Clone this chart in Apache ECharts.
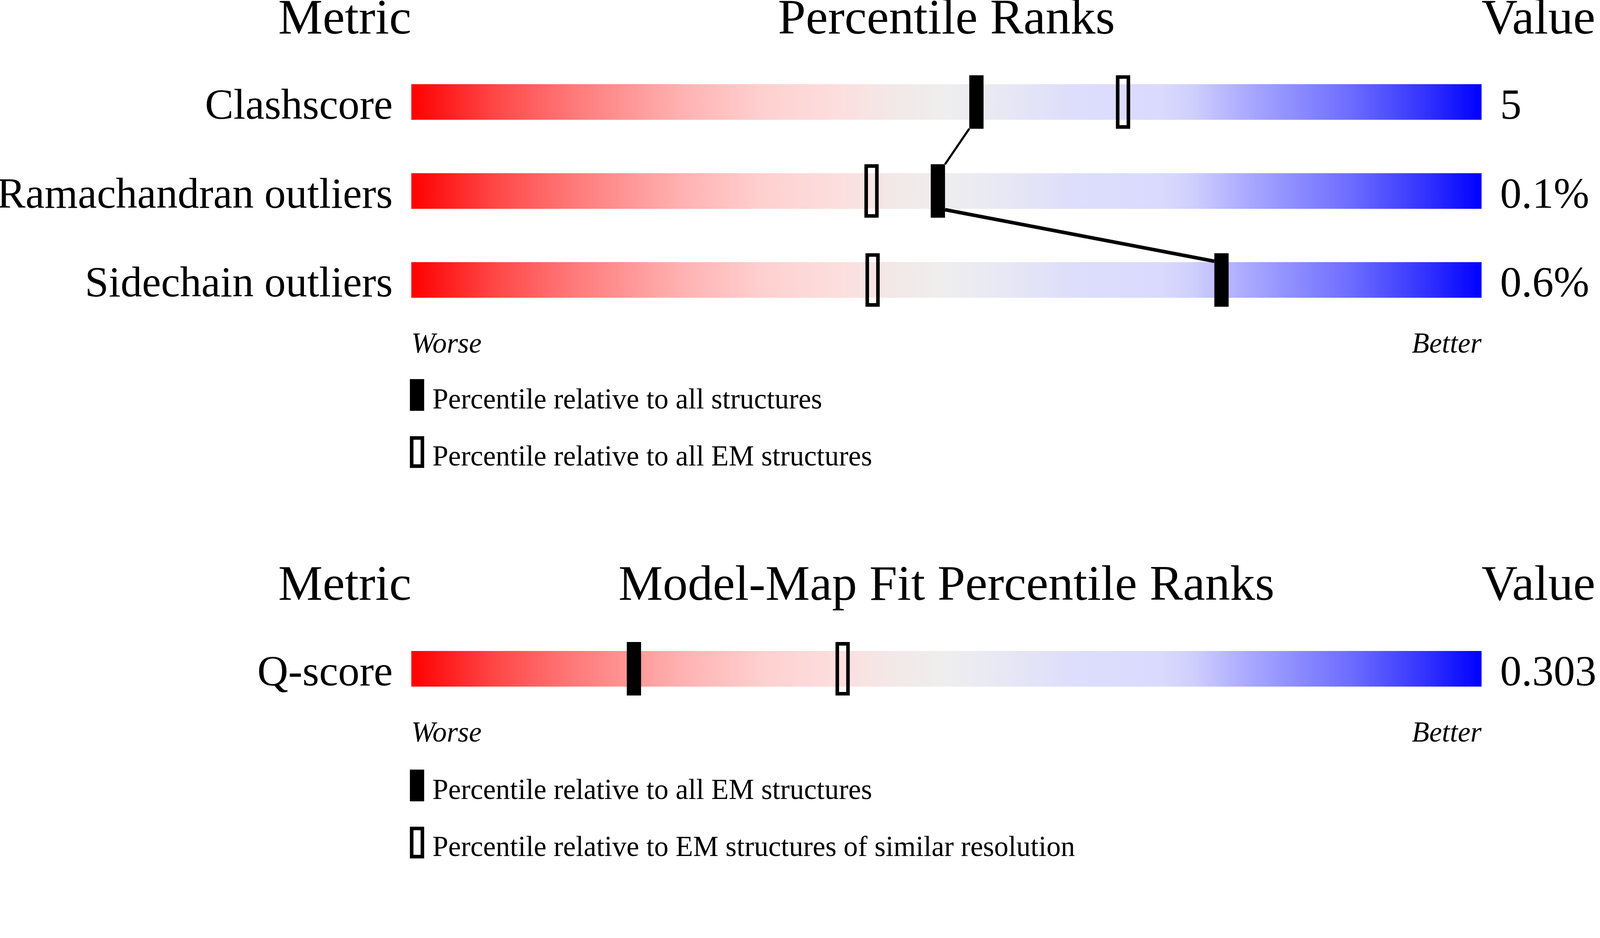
<!DOCTYPE html>
<html>
<head>
<meta charset="utf-8">
<title>Percentile Ranks</title>
<script src="https://cdn.jsdelivr.net/npm/echarts@6/dist/echarts.min.js"></script>
<style>
  html, body { margin: 0; padding: 0; background: #fff; overflow: hidden; }
  #chart { width: 100vw; height: 100vh; }
</style>
</head>
<body>
<div id="chart"></div>
<script>
// Geometry quality metrics
const metrics = ['Clashscore', 'Ramachandran outliers', 'Sidechain outliers'];
const metricValues = ['5', '0.1%', '0.6%'];
const pctAll = [52.8, 49.2, 75.7];   // relative to all structures
const pctAllEM = [66.5, 43.0, 43.1]; // relative to all EM structures

// Model-map fit metrics
const fitMetrics = ['Q-score'];
const fitValues = ['0.303'];
const fitPctAllEM = [20.8];  // relative to all EM structures
const fitPctSimRes = [40.3]; // relative to EM structures of similar resolution

const legendTop = ['Percentile relative to all structures', 'Percentile relative to all EM structures'];
const legendBottom = ['Percentile relative to all EM structures', 'Percentile relative to EM structures of similar resolution'];

const FONT = '"Liberation Serif", "Times New Roman", serif';

const chartDom = document.getElementById('chart');
const chart = echarts.init(chartDom);

// layout was measured on a 4485px wide canvas, scale to whatever we get
const S = chartDom.clientWidth / 4485;
const px = v => v * S;

// red -> grey -> blue slider
const sliderColor = new echarts.graphic.LinearGradient(0, 0, 1, 0, [
    { offset: 0, color: '#ff0000' },
    { offset: 0.08, color: '#ff4848' },
    { offset: 0.15, color: '#ff7878' },
    { offset: 0.25, color: '#ffb0b0' },
    { offset: 0.33, color: '#ffd0d0' },
    { offset: 0.40, color: '#fddede' },
    { offset: 0.45, color: '#f3e8e8' },
    { offset: 0.50, color: '#eeeeee' },
    { offset: 0.55, color: '#e8e8f4' },
    { offset: 0.62, color: '#ddddfc' },
    { offset: 0.70, color: '#dadafe' },
    { offset: 0.73, color: '#cfcffd' },
    { offset: 0.78, color: '#aaaaff' },
    { offset: 0.88, color: '#6b6bff' },
    { offset: 0.95, color: '#3030ff' },
    { offset: 1, color: '#0000ff' }
]);

// marker half width in percentile units (20px of a 3000px slider)
const HALF = 20 / 3000 * 100;
// vertical offsets (in rows) where each connector meets the markers
const linkOffsets = [0.3, 0.21];
const linkWidths = [6, 10];

const links = [];
for (let i = 0; i < pctAll.length - 1; i++) {
    const a = pctAll[i], b = pctAll[i + 1];
    const dir = b > a ? 1 : -1;
    links.push({
        coords: [[a + dir * HALF, i + linkOffsets[i]], [b - dir * HALF, i + 1 - linkOffsets[i]]],
        lineStyle: { width: px(linkWidths[i]) }
    });
}

const xAxisBase = (gridIndex) => ({
    gridIndex: gridIndex,
    type: 'value',
    min: 0,
    max: 100,
    interval: 100,
    axisLine: { show: false },
    axisTick: { show: false },
    splitLine: { show: false },
    axisLabel: {
        showMinLabel: true,
        showMaxLabel: true,
        alignMinLabel: 'left',
        alignMaxLabel: 'right',
        margin: px(18),
        fontFamily: FONT,
        fontStyle: 'italic',
        fontSize: px(80),
        color: '#000',
        formatter: v => (v === 0 ? 'Worse' : v === 100 ? 'Better' : '')
    }
});

const catAxis = (gridIndex, data, position) => ({
    gridIndex: gridIndex,
    type: 'category',
    data: data,
    inverse: true,
    position: position,
    axisLine: { show: false },
    axisTick: { show: false },
    splitLine: { show: false },
    axisLabel: {
        margin: px(52),
        align: position === 'left' ? 'right' : 'left',
        verticalAlign: 'top',
        lineHeight: px(30),
        fontFamily: FONT,
        fontSize: px(120),
        color: '#000'
    }
});

// percentile marker: filled or outlined rectangle, sized in real pixels
const markerSeries = (name, xAxisIndex, yAxisIndex, values, hollow) => ({
    name: name,
    type: 'custom',
    xAxisIndex: xAxisIndex,
    yAxisIndex: yAxisIndex,
    silent: true,
    z: 3,
    data: values.map((p, i) => [p, i]),
    encode: { x: 0, y: 1 },
    renderItem: (params, api) => {
        const c = api.coord([api.value(0), api.value(1)]);
        const w = hollow ? px(30) : px(40);
        const h = hollow ? px(140) : px(150);
        return {
            type: 'rect',
            shape: { x: c[0] - w / 2, y: c[1] - h / 2, width: w, height: h },
            style: hollow
                ? { fill: 'none', stroke: '#000', lineWidth: px(10) }
                : { fill: '#000', stroke: 'none' }
        };
    }
});

const headerText = (x, y, text, align) => ({
    type: 'text',
    x: px(x),
    y: px(y),
    style: { text: text, font: px(140) + 'px ' + FONT, fill: '#000', align: align, verticalAlign: 'middle' }
});

// legend: key rectangle + caption, one row per marker kind
const legendRow = (top, name, hollow) => ({
    type: 'group',
    x: px(1149),
    y: px(top),
    children: [
        {
            type: 'rect',
            shape: hollow ? { x: px(5), y: px(5), width: px(30), height: px(79) } : { x: 0, y: 0, width: px(40), height: px(89) },
            style: hollow ? { fill: '#fff', stroke: '#000', lineWidth: px(10) } : { fill: '#000' }
        },
        {
            type: 'text',
            x: px(63),
            y: px(61),
            style: { text: name, font: px(80) + 'px ' + FONT, fill: '#000', align: 'left', verticalAlign: 'middle' }
        }
    ]
});

const option = {
    backgroundColor: '#fff',
    animation: false,
    grid: [
        { left: px(1153), width: px(3000), top: px(161.25), height: px(748.5), outerBoundsMode: 'none' },
        { left: px(1153), width: px(3000), top: px(1750.5), height: px(249.5), outerBoundsMode: 'none' }
    ],
    xAxis: [xAxisBase(0), xAxisBase(1)],
    yAxis: [
        catAxis(0, metrics, 'left'),
        catAxis(0, metricValues, 'right'),
        { gridIndex: 0, type: 'value', min: -0.5, max: 2.5, inverse: true, show: false },
        catAxis(1, fitMetrics, 'left'),
        catAxis(1, fitValues, 'right')
    ],
    graphic: [
        headerText(1153, 57, 'Metric', 'right'),
        headerText(2653, 57, 'Percentile Ranks', 'center'),
        headerText(4153, 57, 'Value', 'left'),
        headerText(1153, 1645, 'Metric', 'right'),
        headerText(2653, 1645, 'Model-Map Fit Percentile Ranks', 'center'),
        headerText(4153, 1645, 'Value', 'left'),
        legendRow(1063, legendTop[0], false),
        legendRow(1223, legendTop[1], true),
        legendRow(2158, legendBottom[0], false),
        legendRow(2318, legendBottom[1], true)
    ],
    series: [
        {
            type: 'bar', xAxisIndex: 0, yAxisIndex: 0, silent: true,
            barWidth: px(100), data: metrics.map(() => 100),
            itemStyle: { color: sliderColor }, z: 1
        },
        {
            type: 'lines', coordinateSystem: 'cartesian2d', xAxisIndex: 0, yAxisIndex: 2,
            silent: true, data: links, lineStyle: { color: '#000', opacity: 1, curveness: 0 }, z: 2
        },
        markerSeries(legendTop[0], 0, 0, pctAll, false),
        markerSeries(legendTop[1], 0, 0, pctAllEM, true),
        {
            type: 'bar', xAxisIndex: 1, yAxisIndex: 3, silent: true,
            barWidth: px(100), data: fitMetrics.map(() => 100),
            itemStyle: { color: sliderColor }, z: 1
        },
        markerSeries(legendBottom[0], 1, 3, fitPctAllEM, false),
        markerSeries(legendBottom[1], 1, 3, fitPctSimRes, true)
    ]
};

chart.setOption(option);
window.addEventListener('resize', () => chart.resize());
</script>
</body>
</html>
